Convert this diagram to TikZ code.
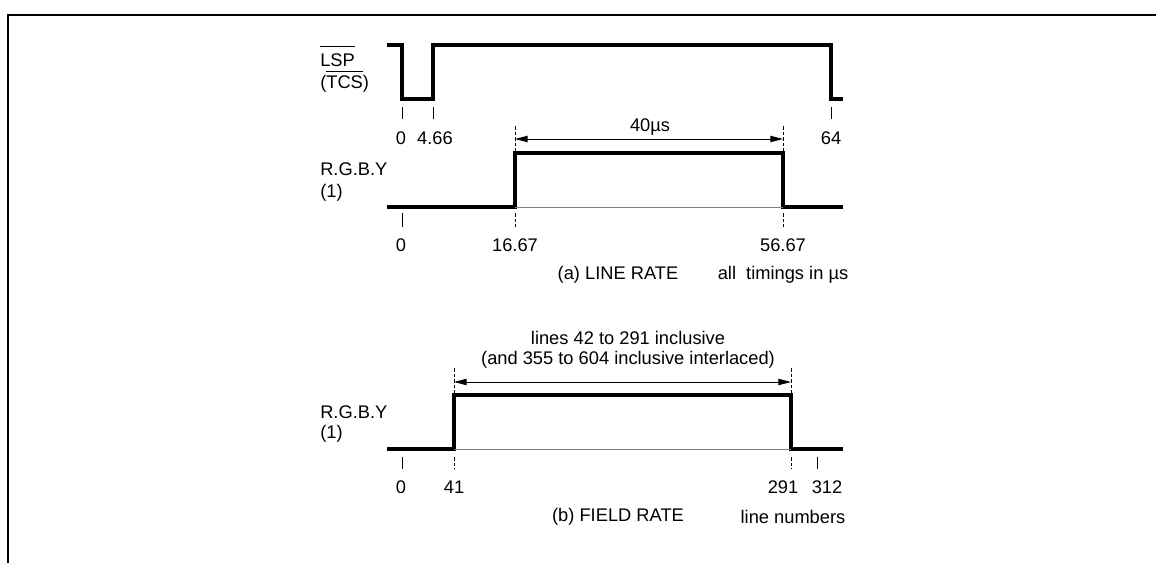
\documentclass[tikz,border=0pt]{standalone}
\usepackage{fontspec}
\setmainfont{Liberation Sans}
\usetikzlibrary{arrows.meta}

\tikzset{
  wave/.style={line width=2.2pt},
  thinlow/.style={line width=0.5pt, gray},
  tickmark/.style={line width=0.6pt},
  guide/.style={line width=0.6pt, dash pattern=on 2.5pt off 1.5pt},
  dimline/.style={line width=0.7pt, {Triangle[length=9pt,width=4.5pt]}-{Triangle[length=9pt,width=4.5pt]}},
  lbl/.style={font=\fontsize{13}{15}\selectfont, inner sep=0pt},
}

\begin{document}
\begin{tikzpicture}[x=0.025cm,y=-0.025cm]
\useasboundingbox (0,0) rectangle (1156,563);
% frame
\draw[line width=2pt] (8,563) -- (8,15) -- (1156,15);

% (a) line rate
\node[lbl,anchor=base west] (lsp) at (320,67) {$\overline{\mbox{LSP}\rule{0pt}{1.05em}}$};
\node[lbl,anchor=base west] (tcs) at (320,89) {($\overline{\mbox{TCS}\rule{0pt}{0.85em}}$)};
\draw[wave] (387,45) -- (402,45) -- (402,99) -- (433,99) -- (433,45) -- (831,45) -- (831,99) -- (843,99);
\foreach \xx in {402,433,831} {\draw[tickmark] (\xx,107) -- (\xx,119);}
\node[lbl] (ta0) at (401,138) {0};
\node[lbl] (ta1) at (435,138) {4.66};
\node[lbl] (ta2) at (831,138) {64};

\coordinate (da) at (515,139);
\coordinate (db) at (783,139);
\draw[guide] (515,126) -- (515,153);
\draw[guide] (783,126) -- (783,153);
\draw[dimline] (da) -- (db);
\node[lbl] (dlab) at (650,127) {40µs};

\node[lbl,anchor=west] (rgb1) at (320,169) {R.G.B.Y};
\node[lbl,anchor=west] (one1) at (320,193) {(1)};
\draw[wave] (387,207) -- (515,207) -- (515,153) -- (783,153) -- (783,207) -- (843,207);
\draw[thinlow] (515,207) -- (783,207);
\draw[tickmark] (402,213) -- (402,227);
\foreach \xx in {515,783} {\draw[guide] (\xx,213) -- (\xx,227);}
\node[lbl] (tb0) at (401,245) {0};
\node[lbl] (tb1) at (515,245) {16.67};
\node[lbl] (tb2) at (783,245) {56.67};
\node[lbl] (capa) at (618,275) {(a) LINE RATE};
\node[lbl] (unita) at (783,275) {all~ timings in µs};

% (b) field rate
\node[lbl] (fl1) at (628,338) {lines 42 to 291 inclusive};
\node[lbl] (fl2) at (628,360) {(and 355 to 604 inclusive interlaced)};
\coordinate (fa) at (454,382);
\coordinate (fb) at (791,382);
\draw[guide] (454,368) -- (454,395);
\draw[guide] (791,368) -- (791,395);
\draw[dimline] (fa) -- (fb);

\node[lbl,anchor=west] (rgb2) at (320,412) {R.G.B.Y};
\node[lbl,anchor=west] (one2) at (320,434) {(1)};
\draw[wave] (387,449) -- (454,449) -- (454,395) -- (791,395) -- (791,449) -- (843,449);
\draw[thinlow] (454,449) -- (791,449);
\foreach \xx in {402,817} {\draw[tickmark] (\xx,457) -- (\xx,469);}
\foreach \xx in {454,791} {\draw[guide] (\xx,457) -- (\xx,469);}
\node[lbl] (tc0) at (401,487) {0};
\node[lbl] (tc1) at (454,487) {41};
\node[lbl] (tc2) at (783,487) {291};
\node[lbl] (tc3) at (827,487) {312};
\node[lbl] (capb) at (618,517) {(b) FIELD RATE};
\node[lbl] (unitb) at (793,517) {line numbers};
\end{tikzpicture}
\end{document}
